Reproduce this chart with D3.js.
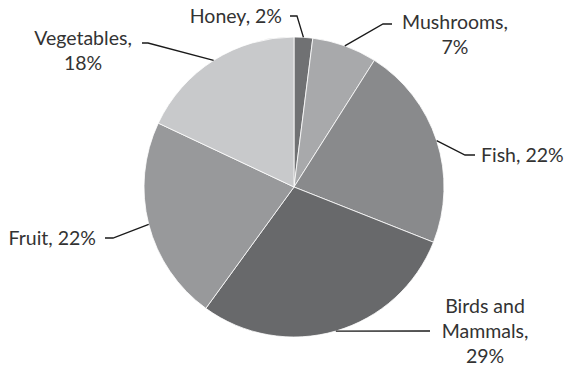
<!DOCTYPE html>
<html>
<head>
<meta charset="utf-8">
<script src="https://cdn.jsdelivr.net/npm/d3@7"></script>
<style>
  body { margin: 0; background: #fff; }
  svg text { font-family: Lato, "Open Sans", sans-serif; font-size: 19.5px; fill: #333333; }
</style>
</head>
<body>
<div id="chart"></div>
<script>
// Chart data
const categories = ['Honey', 'Mushrooms', 'Fish', 'Birds and Mammals', 'Fruit', 'Vegetables'];
const shares = [2, 7, 22, 29, 22, 18];
const sliceColors = ['#707173', '#a8a9ab', '#898a8c', '#68696b', '#98999b', '#c8c9cb'];

// Label text lines, per category
const labelLines = [
    ['Honey, 2%'],
    ['Mushrooms,', '7%'],
    ['Fish, 22%'],
    ['Birds and', 'Mammals,', '29%'],
    ['Fruit, 22%'],
    ['Vegetables,', '18%']
];

// Layout for the leader lines and labels (bend points, text anchor)
const labelLayout = [
    { pts: [[297, 16], [290, 16]], x: 282, y: 16, anchor: 'end' },
    { pts: [[383, 24], [392, 24]], x: 455, y: 22, anchor: 'middle' },
    { pts: [[465, 155], [475, 155]], x: 481, y: 155, anchor: 'start' },
    { pts: [[430, 331]], x: 485, y: 306, anchor: 'middle' },
    { pts: [[113, 238], [105, 238]], x: 96, y: 238, anchor: 'end' },
    { pts: [[148, 43], [142, 43]], x: 83, y: 38, anchor: 'middle' }
];

const width = 564, height = 369;
const cx = 294, cy = 187, radius = 150;
const lineHeight = 25;

function renderPie() {
    const svg = d3.select('#chart')
        .append('svg')
        .attr('width', width)
        .attr('height', height);

    const data = categories.map((c, i) => ({ name: c, value: shares[i], i: i }));

    const pie = d3.pie()
        .sort(null)
        .value(d => d.value);

    const arc = d3.arc()
        .innerRadius(0)
        .outerRadius(radius);

    const arcs = pie(data);

    const g = svg.append('g')
        .attr('transform', `translate(${cx},${cy})`);

    g.selectAll('path')
        .data(arcs)
        .enter()
        .append('path')
        .attr('d', arc)
        .attr('fill', d => sliceColors[d.data.i])
        .attr('stroke', '#ffffff')
        .attr('stroke-width', 0.8);

    // leader lines start on the rim at each slice's mid angle
    const line = d3.line();
    svg.selectAll('path.leader')
        .data(arcs)
        .enter()
        .append('path')
        .attr('class', 'leader')
        .attr('d', d => {
            const a = (d.startAngle + d.endAngle) / 2;
            const start = [cx + radius * Math.sin(a), cy - radius * Math.cos(a)];
            return line([start].concat(labelLayout[d.data.i].pts));
        })
        .attr('fill', 'none')
        .attr('stroke', '#1a1a1a')
        .attr('stroke-width', 1.3);

    // labels
    arcs.forEach(d => {
        const lay = labelLayout[d.data.i];
        const t = svg.append('text')
            .attr('text-anchor', lay.anchor);
        labelLines[d.data.i].forEach((s, k) => {
            t.append('tspan')
                .attr('x', lay.x)
                .attr('y', lay.y + k * lineHeight)
                .attr('dy', '0.35em')
                .text(s);
        });
    });
}

document.addEventListener('DOMContentLoaded', function () {
    renderPie();
});
</script>
</body>
</html>
